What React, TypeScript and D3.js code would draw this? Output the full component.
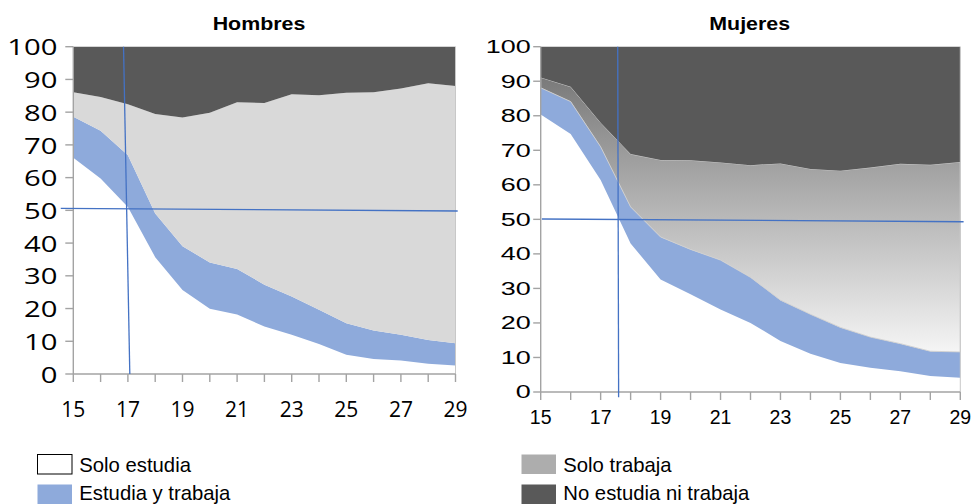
import React from "react";
import * as d3 from "d3";

// ---------- DATA ----------
const ages = [15, 16, 17, 18, 19, 20, 21, 22, 23, 24, 25, 26, 27, 28, 29];
const xTickLabels = [15, 17, 19, 21, 23, 25, 27, 29];
const yTickValues = [0, 10, 20, 30, 40, 50, 60, 70, 80, 90, 100];

const seriesKeys = ["soloEstudia", "estudiaYTrabaja", "soloTrabaja", "noEstudiaNiTrabaja"];
const seriesLabels = ["Solo estudia", "Estudia y trabaja", "Solo trabaja", "No estudia ni trabaja"];

// Hombres (% of age group)
const hombresSoloEstudia = [66.1, 59.7, 51.0, 35.7, 25.7, 19.9, 18.2, 14.5, 12.0, 9.2, 5.9, 4.6, 4.1, 3.1, 2.6];
const hombresEstudiaYTrabaja = [12.5, 14.6, 15.8, 13.3, 13.3, 14.2, 13.9, 12.8, 11.7, 10.4, 9.6, 8.7, 7.9, 7.3, 6.8];
const hombresSoloTrabaja = [7.5, 10.3, 15.6, 30.4, 39.4, 45.7, 50.9, 55.5, 61.8, 65.6, 70.4, 72.8, 75.2, 78.4, 78.6];
const hombresNoEstudiaNiTrabaja = [13.9, 15.4, 17.6, 20.6, 21.6, 20.2, 17.0, 17.2, 14.5, 14.8, 14.1, 13.9, 12.8, 11.2, 12.0];

// Mujeres (% of age group)
const mujeresSoloEstudia = [80.4, 74.7, 61.4, 43.0, 32.6, 28.3, 23.9, 20.0, 14.8, 11.1, 8.4, 7.0, 6.0, 4.6, 4.1];
const mujeresEstudiaYTrabaja = [7.7, 9.4, 9.6, 10.6, 12.3, 13.0, 14.3, 13.2, 11.8, 11.4, 10.3, 8.9, 8.0, 7.2, 7.5];
const mujeresSoloTrabaja = [3.0, 4.3, 7.0, 15.3, 22.3, 25.8, 28.3, 32.5, 39.6, 42.1, 45.4, 49.1, 52.1, 54.0, 55.0];
const mujeresNoEstudiaNiTrabaja = [8.9, 11.6, 22.0, 31.1, 32.8, 32.9, 33.5, 34.3, 33.8, 35.4, 35.9, 35.0, 33.9, 34.2, 33.4];

// reference (crosshair) lines, in data units: [age1, pct1, age2, pct2]
const hombresGuides = [
  [16.84, 100, 17.07, 0],
  [14.54, 50.6, 29.08, 49.8],
];
const mujeresGuides = [
  [17.57, 100, 17.6, -1.5],
  [15.04, 50.1, 29.11, 49.3],
];

// ---------- HELPERS ----------
function buildRows(a: number[], b: number[], c: number[], d: number[]) {
  return ages.map((age, i) => ({
    age,
    soloEstudia: a[i],
    estudiaYTrabaja: b[i],
    soloTrabaja: c[i],
    noEstudiaNiTrabaja: d[i],
  }));
}

type PanelProps = {
  id: string;
  title: string;
  titleX: number;
  rows: any[];
  guides: number[][];
  x0: number;
  x1: number;
  yTop: number;
  yBottom: number;
  fills: string[];
  gradient: boolean;
  yLabelX: number;
  yLabelFont: string;
  yLabelSize: number;
  yLabelScale: number;
  xLabelFont: string;
  xLabelSize: number;
  xLabelY: number;
  tickLen: number;
};

function Panel(p: PanelProps) {
  const x = d3.scaleLinear().domain([15, 29]).range([p.x0, p.x1]);
  const y = d3.scaleLinear().domain([0, 100]).range([p.yBottom, p.yTop]);
  const stack = d3.stack<any>().keys(seriesKeys);
  const layers = stack(p.rows);
  const area = d3
    .area<any>()
    .x((d) => x(d.data.age))
    .y0((d) => y(d[0]))
    .y1((d) => y(d[1]));
  const axisColor = "#a3a3a3";
  const gradId = `grad-${p.id}`;
  return (
    <g>
      {p.gradient && (
        <defs>
          <linearGradient id={gradId} gradientUnits="userSpaceOnUse" x1={0} x2={0} y1={y(100)} y2={y(5)}>
            <stop offset="0" stopColor="#6c6c6c" />
            <stop offset="1" stopColor="#ffffff" />
          </linearGradient>
        </defs>
      )}
      {layers.map((layer, i) => (
        <path
          key={layer.key}
          d={area(layer) || ""}
          fill={i === 2 && p.gradient ? `url(#${gradId})` : p.fills[i]}
          stroke={i === 2 && p.gradient ? "#cfcfcf" : "none"}
          strokeWidth={i === 2 && p.gradient ? 0.9 : 0}
        />
      ))}
      {/* right border */}
      <line x1={x(29)} x2={x(29)} y1={y(100)} y2={y(0)} stroke="#c8c8c8" strokeWidth={1} />
      {/* y axis */}
      <line x1={x(15)} x2={x(15)} y1={y(100)} y2={y(0)} stroke={axisColor} strokeWidth={1.4} />
      {yTickValues.map((v) => (
        <g key={"yt" + v}>
          <line x1={x(15) - p.tickLen} x2={x(15)} y1={y(v)} y2={y(v)} stroke={axisColor} strokeWidth={1.4} />
          <text
            transform={`translate(${p.yLabelX},${y(v)}) scale(${p.yLabelScale},1)`}
            textAnchor="end"
            dominantBaseline="central"
            fontFamily={p.yLabelFont}
            fontSize={p.yLabelSize}
            fill="#000"
          >
            {v}
          </text>
        </g>
      ))}
      {/* x axis */}
      <line x1={x(15)} x2={x(29)} y1={y(0)} y2={y(0)} stroke={axisColor} strokeWidth={1.4} />
      {ages.map((a) => (
        <line key={"xt" + a} x1={x(a)} x2={x(a)} y1={y(0)} y2={y(0) + 8} stroke={axisColor} strokeWidth={1.4} />
      ))}
      {xTickLabels.map((a) => (
        <text
          key={"xl" + a}
          x={x(a)}
          y={p.xLabelY}
          textAnchor="middle"
          fontFamily={p.xLabelFont}
          fontSize={p.xLabelSize}
          fill="#000"
        >
          {a}
        </text>
      ))}
      {/* guides */}
      {p.guides.map((g, i) => (
        <line
          key={"g" + i}
          x1={x(g[0])}
          y1={y(g[1])}
          x2={x(g[2])}
          y2={y(g[3])}
          stroke="#4472c4"
          strokeWidth={1.3}
        />
      ))}
      {/* title */}
      <text
        transform={`translate(${p.titleX},30) scale(1.15,1)`}
        textAnchor="middle"
        fontFamily="'Liberation Sans', Arial, sans-serif"
        fontWeight="bold"
        fontSize={18.6}
        fill="#000"
      >
        {p.title}
      </text>
    </g>
  );
}

const legendFills = ["#ffffff", "#8eaadb", "#adadad", "#595959"];

export default function App() {
  const hRows = buildRows(hombresSoloEstudia, hombresEstudiaYTrabaja, hombresSoloTrabaja, hombresNoEstudiaNiTrabaja);
  const mRows = buildRows(mujeresSoloEstudia, mujeresEstudiaYTrabaja, mujeresSoloTrabaja, mujeresNoEstudiaNiTrabaja);
  const legendPos = [
    { x: 37.5, y: 454.5, ty: 472.3 },
    { x: 37.5, y: 484.5, ty: 499.8 },
    { x: 521.5, y: 454.5, ty: 472.3 },
    { x: 521.5, y: 484.5, ty: 499.8 },
  ];
  return (
    <svg
      width={975}
      height={504}
      style={{ position: "absolute", left: 0, top: 0, background: "#fff" }}
      xmlns="http://www.w3.org/2000/svg"
    >
      <rect x={0} y={0} width={975} height={504} fill="#fff" />
      <Panel
        id="h"
        title="Hombres"
        titleX={259}
        rows={hRows}
        guides={hombresGuides}
        x0={73.3}
        x1={455.5}
        yTop={46.7}
        yBottom={374}
        fills={["#ffffff", "#8eaadb", "#d9d9d9", "#595959"]}
        gradient={false}
        yLabelX={57.5}
        yLabelFont="'Open Sans', sans-serif"
        yLabelSize={22.5}
        yLabelScale={1.3}
        xLabelFont="'Open Sans', sans-serif"
        xLabelSize={21}
        xLabelY={416.7}
        tickLen={8}
      />
      <Panel
        id="m"
        title="Mujeres"
        titleX={749.7}
        rows={mRows}
        guides={mujeresGuides}
        x0={540.7}
        x1={960.3}
        yTop={46.7}
        yBottom={392}
        fills={["#ffffff", "#8eaadb", "#adadad", "#595959"]}
        gradient={true}
        yLabelX={530.7}
        yLabelFont="'Liberation Sans', Arial, sans-serif"
        yLabelSize={18.6}
        yLabelScale={1.45}
        xLabelFont="'Liberation Sans', Arial, sans-serif"
        xLabelSize={19.5}
        xLabelY={424}
        tickLen={7.5}
      />
      {/* legend */}
      {seriesLabels.map((lab, i) => (
        <g key={lab}>
          <rect
            x={legendPos[i].x}
            y={legendPos[i].y}
            width={34.5}
            height={19.5}
            fill={legendFills[i]}
            stroke={i === 0 ? "#000" : "none"}
            strokeWidth={i === 0 ? 1 : 0}
          />
          <text
            x={legendPos[i].x + 41.8}
            y={legendPos[i].ty}
            fontFamily="'Liberation Sans', Arial, sans-serif"
            fontSize={20.3}
            fill="#000"
          >
            {lab}
          </text>
        </g>
      ))}
    </svg>
  );
}
